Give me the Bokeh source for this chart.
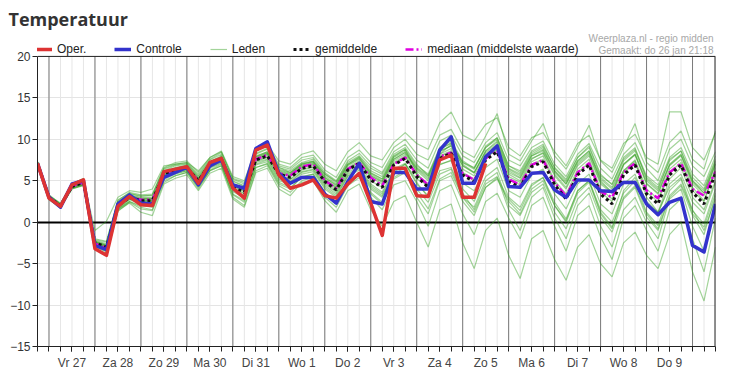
from bokeh.plotting import figure
from bokeh.models import FixedTicker, Span, Label, Legend, LegendItem, Range1d
from bokeh.embed import file_html
from bokeh.resources import INLINE

# ---------------- data ----------------
day_labels = ["Vr 27", "Za 28", "Zo 29", "Ma 30", "Di 31", "Wo 1", "Do 2",
              "Vr 3", "Za 4", "Zo 5", "Ma 6", "Di 7", "Wo 8", "Do 9"]
y_ticks = [-15, -10, -5, 0, 5, 10, 15, 20]

# 6-hourly values, first point = 26 jan 18:00
oper = [7.1, 2.9, 1.9, 4.5, 5.1,
        -3.2, -4.0, 1.9, 3.1, 2.1, 2.0, 6.1, 6.4, 6.7, 4.7, 7.2, 7.7,
        4.1, 2.9, 8.7, 9.3, 5.7, 4.1, 4.5, 5.1, 3.2, 2.9, 4.6, 5.9,
        2.3, -1.6, 6.5, 6.5, 3.2, 3.1, 7.5, 8.1, 3.0, 3.0, 7.1]

controle = [7.1, 3.0, 1.8, 4.6, 5.0,
            -2.8, -3.3, 2.2, 3.3, 2.3, 2.2, 5.4, 6.0, 6.6, 4.5, 6.8, 7.5,
            4.5, 4.1, 8.9, 9.7, 5.9, 4.7, 5.4, 5.4, 3.4, 2.3, 4.9, 7.1,
            2.5, 2.2, 6.0, 6.0, 4.0, 4.0, 8.7, 10.3, 4.7, 4.7, 7.9, 9.2,
            4.3, 4.2, 5.9, 6.0, 3.9, 3.0, 5.1, 5.1, 3.8, 3.7, 4.8, 4.8,
            2.2, 0.9, 2.4, 2.9, -2.8, -3.6, 2.2]

gemiddelde = [7.1, 3.0, 2.0, 4.3, 4.8,
              -2.5, -3.0, 2.0, 3.0, 2.6, 2.6, 5.8, 6.3, 6.6, 5.0, 7.0, 7.6,
              4.3, 3.6, 7.5, 8.0, 5.8, 5.4, 6.5, 6.8, 4.9, 3.9, 6.3, 7.1,
              5.1, 4.2, 6.9, 7.7, 5.5, 4.2, 7.7, 8.3, 5.7, 4.9, 7.5, 8.5,
              4.9, 4.2, 6.7, 7.3, 4.5, 2.8, 5.7, 6.9, 3.4, 2.2, 5.7, 6.9,
              3.4, 2.2, 5.7, 6.9, 3.6, 2.2, 5.9]

mediaan = [7.1, 3.0, 2.0, 4.3, 4.8,
           -2.6, -3.1, 2.0, 3.0, 2.7, 2.7, 5.9, 6.3, 6.6, 5.0, 7.0, 7.6,
           4.4, 3.8, 7.6, 8.1, 5.9, 5.6, 6.7, 7.0, 5.0, 4.1, 6.4, 7.2,
           5.4, 4.4, 7.0, 7.8, 5.7, 4.5, 7.9, 8.4, 5.9, 5.1, 7.7, 8.6,
           5.2, 4.5, 6.9, 7.5, 4.8, 3.1, 6.0, 7.1, 3.7, 3.0, 6.0, 7.1,
           3.8, 2.9, 6.0, 7.1, 4.0, 3.2, 6.1]

leden = [
    [7.3, 3.2, 2.3, 4.6, 5.3, -2.0, -2.3, 2.6, 3.6, 3.3, 3.4, 6.6, 7.2, 7.4, 6.0, 7.8, 8.6,
     5.5, 5.0, 8.8, 9.4, 7.4, 7.0, 8.2, 8.6, 7.0, 6.2, 8.5, 9.6,
     8.0, 7.5, 9.6, 10.8, 9.5, 8.8, 12.0, 13.3, 10.5, 9.8, 11.8, 12.6,
     9.0, 8.0, 10.2, 10.8, 8.5, 6.8, 9.5, 10.5, 7.5, 6.5, 9.5, 10.6, 7.8, 7.0, 13.3, 13.3, 9.0, 7.5, 10.8],
    [7.0, 2.8, 1.8, 4.0, 4.4, -3.2, -3.8, 1.4, 2.3, 1.2, 0.8, 4.6, 5.3, 5.7, 3.8, 5.9, 6.5,
     2.8, 1.8, 6.0, 6.5, 4.0, 3.2, 4.8, 5.0, 2.6, 1.2, 3.8, 4.6,
     1.5, -0.5, 2.5, 3.2, 0.0, -3.0, 1.5, 2.2, -2.5, -5.6, -1.0, 0.5,
     -4.0, -6.8, -2.0, -1.0, -4.5, -7.0, -3.0, -1.5, -5.0, -6.6, -2.5, -1.2, -4.0, -5.6, -1.5, 0.0, -6.0, -9.5, -3.0],
    [6.9, 2.7, 1.7, 4.0, 4.5, -3.0, -3.6, 1.5, 2.5, 2.0, 1.8, 5.0, 5.6, 6.0, 4.2, 6.2, 6.8,
     3.3, 2.4, 6.6, 7.0, 4.6, 4.0, 5.5, 5.8, 3.6, 2.3, 5.0, 5.6,
     3.0, 1.5, 4.5, 5.0, 2.5, -0.5, 3.8, 4.5, 1.0, -1.5, 2.5, 3.5,
     0.5, -2.0, 2.0, 3.0, -0.5, -3.5, 0.8, 2.0, -1.8, -4.5, 0.5, 2.0, -1.0, -3.5, 1.5, 2.8, -2.0, -6.0, 0.5],
    [7.2, 3.2, 2.2, 4.5, 5.0, -2.2, -2.6, 2.5, 3.4, 3.2, 3.2, 6.4, 6.9, 7.1, 5.6, 7.5, 8.2,
     5.0, 4.4, 8.3, 8.9, 6.8, 6.4, 7.5, 7.8, 6.0, 5.0, 7.4, 8.3,
     6.8, 6.0, 8.5, 9.4, 7.5, 6.5, 9.8, 10.5, 8.0, 7.2, 9.6, 10.8,
     7.5, 6.8, 9.0, 9.8, 7.0, 5.5, 8.2, 9.5, 6.5, 5.2, 8.2, 9.6, 6.5, 5.0, 8.8, 10.0, 6.8, 5.5, 8.5],
    [7.1, 3.1, 2.1, 4.4, 4.9, -2.4, -2.8, 2.2, 3.2, 2.8, 2.9, 6.0, 6.5, 6.8, 5.3, 7.2, 7.9,
     4.6, 4.0, 7.8, 8.3, 6.2, 5.8, 6.9, 7.2, 5.4, 4.4, 6.8, 7.6,
     5.8, 5.0, 7.6, 8.4, 6.4, 5.2, 8.5, 9.2, 6.8, 6.0, 8.4, 9.4,
     6.0, 5.3, 7.7, 8.3, 5.6, 4.0, 6.8, 8.0, 4.6, 3.5, 6.9, 8.1, 4.7, 3.5, 6.9, 8.1, 4.8, 3.5, 7.0],
    [7.0, 2.9, 1.9, 4.2, 4.7, -2.7, -3.2, 1.8, 2.8, 2.4, 2.3, 5.5, 6.1, 6.4, 4.7, 6.7, 7.3,
     4.0, 3.2, 7.2, 7.6, 5.4, 4.9, 6.1, 6.4, 4.4, 3.4, 5.8, 6.6,
     4.4, 3.4, 6.2, 7.0, 4.6, 3.2, 6.9, 7.5, 4.7, 3.8, 6.6, 7.6,
     3.8, 3.0, 5.7, 6.4, 3.4, 1.6, 4.6, 5.8, 2.2, 1.0, 4.6, 5.8, 2.2, 1.0, 4.6, 5.8, 2.4, 1.0, 4.8],
    [7.2, 3.1, 2.0, 4.4, 5.0, -2.3, -2.7, 2.4, 3.3, 3.0, 3.0, 6.2, 6.8, 7.0, 5.5, 7.3, 8.0,
     4.9, 4.3, 8.2, 8.8, 6.6, 6.2, 7.2, 7.6, 5.8, 4.8, 7.0, 7.9,
     6.2, 5.5, 8.0, 8.8, 6.0, 4.0, 7.0, 7.4, 4.0, 2.5, 5.5, 6.6,
     3.0, 1.8, 4.6, 5.4, 2.0, 0.0, 3.5, 4.8, 1.0, -0.8, 3.8, 5.4, 2.5, 1.2, 5.2, 6.6, 3.0, 1.5, 5.0],
    [7.0, 2.9, 1.9, 4.2, 4.6, -2.8, -3.4, 1.6, 2.7, 2.2, 2.1, 5.4, 5.9, 6.2, 4.5, 6.5, 7.1,
     3.7, 2.9, 6.9, 7.3, 5.0, 4.6, 5.8, 6.1, 4.0, 3.0, 5.5, 6.3,
     4.0, 3.0, 6.0, 7.0, 5.2, 4.5, 8.2, 9.4, 7.2, 6.6, 9.0, 10.2,
     6.8, 6.2, 8.6, 9.4, 6.5, 5.0, 7.8, 9.2, 5.8, 4.5, 7.8, 9.0, 5.2, 4.0, 7.6, 8.6, 5.0, 3.8, 7.4],
    [7.3, 3.3, 2.2, 4.6, 5.2, -2.1, -2.4, 2.7, 3.5, 3.1, 3.3, 6.5, 7.0, 7.2, 5.8, 7.6, 8.4,
     5.3, 4.8, 8.6, 9.2, 7.0, 6.6, 7.8, 8.1, 6.3, 5.4, 7.8, 8.7,
     7.2, 6.6, 9.0, 10.0, 8.2, 7.5, 10.5, 11.2, 8.6, 7.8, 10.4, 13.1,
     8.2, 7.4, 9.8, 11.9, 8.0, 6.4, 9.0, 11.7, 7.4, 6.0, 9.0, 11.9, 7.2, 6.0, 9.6, 11.0, 7.6, 6.4, 11.0],
    [7.1, 3.0, 1.9, 4.3, 4.7, -2.6, -3.1, 1.9, 2.9, 2.5, 2.4, 5.7, 6.2, 6.5, 4.9, 6.9, 7.5,
     4.1, 3.4, 7.3, 7.8, 5.6, 5.1, 6.3, 6.6, 4.6, 3.6, 6.0, 6.8,
     4.6, 3.6, 6.4, 7.1, 4.8, 3.0, 6.2, 6.6, 3.5, 1.5, 4.6, 5.5,
     1.5, -1.0, 3.0, 4.2, 0.5, -2.0, 2.0, 3.5, -0.5, -3.0, 1.5, 3.0, 0.0, -2.0, 2.8, 4.0, -0.5, -3.5, 2.0],
    [7.2, 3.1, 2.1, 4.5, 5.1, -1.0, 0.1, 3.0, 3.8, 3.6, 4.0, 6.8, 7.0, 7.2, 6.2, 7.8, 8.5,
     5.2, 4.6, 8.0, 8.5, 6.6, 6.0, 7.0, 7.3, 5.8, 4.9, 7.2, 8.0,
     6.5, 5.8, 8.2, 9.0, 7.0, 5.6, 8.8, 9.5, 7.0, 6.0, 8.6, 9.8,
     6.4, 5.6, 8.0, 8.8, 6.0, 4.6, 7.2, 8.4, 5.2, 4.0, 7.0, 8.2, 5.0, 3.8, 7.0, 8.2, 5.0, 3.5, 7.2],
    [6.9, 2.8, 1.8, 4.1, 4.5, -3.3, -4.0, 1.3, 2.4, 1.6, 1.4, 4.8, 5.6, 6.0, 4.0, 6.2, 6.8,
     3.4, 2.6, 6.6, 7.1, 4.8, 4.2, 5.4, 5.8, 3.4, 2.4, 4.8, 5.8,
     3.4, 2.2, 5.2, 6.0, 3.0, 1.0, 5.0, 5.6, 2.5, 0.8, 4.2, 5.2,
     2.5, 1.0, 4.0, 5.0, 2.0, 0.2, 3.8, 5.0, 1.5, 0.0, 3.5, 5.0, 1.2, -0.4, 3.8, 5.2, 1.0, -0.6, 3.5],
    [7.1, 3.0, 2.0, 4.3, 4.8, -2.5, -3.0, 2.0, 3.0, 2.7, 2.6, 5.9, 6.4, 6.6, 5.0, 7.0, 7.6,
     4.4, 3.8, 7.6, 8.2, 6.0, 5.6, 6.7, 7.0, 5.1, 4.2, 6.5, 7.2,
     5.4, 4.6, 7.2, 8.0, 5.8, 4.6, 8.0, 8.6, 6.0, 5.2, 7.8, 8.8,
     5.2, 4.5, 7.0, 7.6, 4.8, 3.0, 6.0, 7.2, 3.6, 2.5, 6.0, 7.2, 3.6, 2.5, 6.0, 7.2, 3.8, 2.5, 6.2],
    [7.2, 3.1, 2.1, 4.4, 4.9, -2.4, -2.9, 2.1, 3.1, 2.7, 2.7, 6.0, 6.5, 6.8, 5.2, 7.2, 7.8,
     4.6, 4.0, 7.9, 8.4, 6.3, 5.9, 7.0, 7.3, 5.4, 4.5, 6.9, 7.7,
     5.9, 5.2, 7.8, 8.6, 6.6, 5.6, 8.8, 9.6, 7.2, 6.4, 9.0, 10.0,
     6.5, 5.8, 8.2, 9.0, 6.2, 4.6, 7.4, 8.6, 5.0, 3.6, 6.2, 7.4, 3.0, 1.2, 4.2, 5.4, 1.5, -1.0, 2.8],
    [7.0, 2.9, 1.9, 4.2, 4.7, -2.7, -3.3, 1.7, 2.8, 2.3, 2.2, 5.6, 6.0, 6.3, 4.6, 6.6, 7.2,
     3.9, 3.1, 7.0, 7.5, 5.2, 4.8, 6.0, 6.3, 4.2, 3.2, 5.6, 6.5,
     4.2, 3.2, 5.8, 6.6, 4.0, 2.4, 5.8, 6.4, 3.0, 1.8, 5.0, 6.0,
     2.0, 0.8, 3.6, 4.6, 1.2, -0.8, 2.8, 4.2, 0.6, -1.2, 2.8, 4.2, 0.6, -1.0, 3.0, 4.4, 0.8, -1.5, 3.2],
    [7.1, 3.0, 2.0, 4.3, 4.8, -2.6, -3.1, 1.9, 2.9, 2.5, 2.5, 5.7, 6.2, 6.5, 4.8, 6.9, 7.5,
     4.2, 3.5, 7.4, 7.9, 5.7, 5.2, 6.4, 6.7, 4.8, 3.8, 6.2, 7.0,
     5.0, 4.2, 7.0, 7.9, 5.7, 4.5, 7.9, 8.5, 5.9, 5.0, 7.8, 8.7,
     5.5, 4.8, 7.3, 8.0, 5.0, 3.4, 6.4, 7.6, 4.0, 2.8, 6.2, 7.5, 4.0, 2.8, 6.4, 7.6, 4.2, 2.6, 6.6],
    [7.1, 3.0, 2.1, 4.4, 4.9, -2.3, -2.8, 2.3, 3.2, 2.9, 2.8, 6.1, 6.6, 6.9, 5.3, 7.3, 7.9,
     4.7, 4.1, 7.9, 8.5, 6.4, 6.0, 7.1, 7.4, 5.6, 4.6, 7.0, 7.8,
     6.0, 5.2, 7.9, 8.8, 6.8, 5.8, 9.0, 9.8, 7.4, 6.5, 9.2, 10.2,
     6.8, 6.0, 8.4, 9.2, 6.6, 5.2, 7.8, 9.0, 5.6, 4.6, 7.6, 8.8, 5.6, 4.5, 7.8, 9.0, 5.8, 4.4, 8.0],
    [7.0, 2.9, 2.0, 4.3, 4.8, -2.5, -3.0, 2.0, 3.0, 2.6, 2.6, 5.8, 6.3, 6.6, 5.0, 7.0, 7.6,
     4.3, 3.7, 7.6, 8.1, 5.9, 5.5, 6.6, 6.9, 5.0, 4.0, 6.4, 7.2,
     5.6, 4.8, 7.4, 8.2, 6.2, 5.0, 8.2, 8.9, 6.4, 5.6, 8.2, 9.2,
     5.8, 5.0, 7.6, 8.4, 5.8, 4.2, 7.0, 8.2, 4.8, 3.6, 7.0, 8.2, 4.6, 3.4, 6.8, 8.0, 4.6, 3.2, 7.0],
    [7.0, 2.8, 1.8, 4.1, 4.5, -3.0, -3.5, 1.6, 2.5, 1.8, 1.5, 5.2, 5.8, 6.2, 4.3, 6.3, 7.0,
     3.0, 2.0, 6.2, 6.8, 4.4, 3.6, 5.0, 5.4, 3.0, 1.8, 4.4, 5.4,
     3.6, 2.4, 5.4, 6.2, 3.6, 1.6, 5.2, 6.0, 3.0, 1.2, 4.2, 5.4,
     2.8, 1.4, 4.4, 5.4, 2.4, 0.4, 3.8, 5.0, 1.2, -0.6, 3.0, 4.4, 1.0, -0.8, 3.2, 4.6, 1.4, -0.2, 4.0],
    [7.2, 3.1, 2.1, 4.4, 4.8, -2.4, -2.9, 2.2, 3.1, 2.8, 2.8, 6.0, 6.4, 6.7, 5.1, 7.1, 7.7,
     4.5, 3.9, 7.7, 8.3, 6.1, 5.7, 6.8, 7.1, 5.2, 4.2, 6.6, 7.4,
     5.6, 4.9, 7.6, 8.4, 6.5, 5.4, 8.6, 9.2, 6.8, 5.9, 8.6, 9.6,
     6.2, 5.4, 8.0, 8.6, 6.2, 4.8, 7.4, 8.6, 5.4, 4.2, 7.4, 8.6, 5.4, 4.2, 7.4, 8.6, 5.4, 4.0, 7.6],
]

# time axis: hours since 27 jan 00:00, 6-hourly, first point 26 jan 18:00
STEP_H = 6
START_H = -6
N_STEPS = 60
hours = [START_H + STEP_H * i for i in range(N_STEPS)]
x_end = hours[-1]
Y_MIN, Y_MAX = -15, 20

# layout (pixels)
W, H = 716, 372
FRAME_LEFT, FRAME_RIGHT = 37, 715
FRAME_TOP, BOX_TOP, BOX_BOTTOM = 30, 56, 347
PX_PER_DEG = (BOX_BOTTOM - BOX_TOP) / (Y_MAX - Y_MIN)

quarter_ticks = hours[:]
noon_ticks = [12 + 24 * k for k in range(len(day_labels))]
midnight_ticks = [24 * k for k in range(15)]

p = figure(width=W, height=H, output_backend="svg", toolbar_location=None,
           x_range=Range1d(START_H, x_end),
           y_range=Range1d(Y_MIN, Y_MAX + (BOX_TOP - FRAME_TOP) / PX_PER_DEG),
           min_border_left=FRAME_LEFT, min_border_right=W - FRAME_RIGHT,
           min_border_top=FRAME_TOP, min_border_bottom=H - BOX_BOTTOM)
p.background_fill_color = "white"
p.border_fill_color = "white"
p.outline_line_color = None

# title in the panel above the frame
p.title.text = "Temperatuur"
p.title.align = "left"
p.title.offset = -29
p.title.standoff = 0
p.title.vertical_align = "bottom"
p.title.text_font = "Open Sans"
p.title.text_font_size = "18px"
p.title.text_font_style = "bold"
p.title.text_color = "#333333"

p.xgrid.visible = False
p.ygrid.grid_line_color = "#e4e4e4"
p.ygrid.ticker = FixedTicker(ticks=y_ticks)

# vertical grid (6-hourly light, daily dark), only inside the plotting box
p.segment(x0=quarter_ticks, y0=[Y_MIN] * len(quarter_ticks), x1=quarter_ticks, y1=[Y_MAX] * len(quarter_ticks),
          line_color="#e6e6e6", line_width=1)
p.segment(x0=midnight_ticks, y0=[Y_MIN] * len(midnight_ticks), x1=midnight_ticks, y1=[Y_MAX] * len(midnight_ticks),
          line_color="#7a7a7a", line_width=1)
# zero baseline
p.hspan(y=[0], line_color="black", line_width=2)

# axes
p.xaxis.ticker = FixedTicker(ticks=noon_ticks, minor_ticks=quarter_ticks)
p.xaxis.major_label_overrides = {t: lab for t, lab in zip(noon_ticks, day_labels)}
p.xaxis.major_tick_in = 0
p.xaxis.major_tick_out = 5
p.xaxis.minor_tick_in = 0
p.xaxis.minor_tick_out = 5
p.xaxis.major_tick_line_color = "#222222"
p.xaxis.minor_tick_line_color = "#222222"
p.xaxis.axis_line_color = "#222222"
p.xaxis.major_label_standoff = 4
p.xaxis.major_label_text_font = "Liberation Sans"
p.xaxis.major_label_text_font_size = "12px"
p.xaxis.major_label_text_color = "#444444"

p.yaxis.ticker = FixedTicker(ticks=y_ticks)
p.yaxis.bounds = (Y_MIN, Y_MAX)
p.yaxis.major_tick_in = 0
p.yaxis.major_tick_out = 5
p.yaxis.minor_tick_line_color = None
p.yaxis.major_tick_line_color = "#222222"
p.yaxis.axis_line_color = "#222222"
p.yaxis.major_label_standoff = 2
p.yaxis.major_label_text_font = "Liberation Sans"
p.yaxis.major_label_text_font_size = "12px"
p.yaxis.major_label_text_color = "#333333"

# ---------------- series ----------------
member_renderers = []
for vals in leden:
    r = p.line(hours[:len(vals)], vals, line_color="#33a020", line_alpha=0.45, line_width=1.2)
    member_renderers.append(r)

r_med = p.line(hours[:len(mediaan)], mediaan, line_color="#e000e0", line_width=2.5, line_dash="8 3 2 3")
r_mean = p.line(hours[:len(gemiddelde)], gemiddelde, line_color="#111111", line_width=3, line_dash="3 3")
r_ctrl = p.line(hours[:len(controle)], controle, line_color="#3333cc", line_width=3.5, line_join="round")
r_oper = p.line(hours[:len(oper)], oper, line_color="#dd3333", line_width=3.5, line_join="round")

# box border (top and right) of the plotting area
p.add_layout(Span(location=Y_MAX, dimension="width", line_color="#222222", line_width=1))
p.line([x_end, x_end], [Y_MIN, Y_MAX], line_color="#222222", line_width=2)

legend = Legend(items=[
    LegendItem(label="Oper.", renderers=[r_oper]),
    LegendItem(label="Controle", renderers=[r_ctrl]),
    LegendItem(label="Leden", renderers=[member_renderers[0]]),
    LegendItem(label="gemiddelde", renderers=[r_mean]),
    LegendItem(label="mediaan (middelste waarde)", renderers=[r_med]),
], orientation="horizontal", location=(-2, 290),
    label_text_font="Liberation Sans", label_text_font_size="12px", label_text_color="#222222",
    glyph_width=17, glyph_height=12, label_height=12, label_standoff=5, spacing=28,
    padding=0, margin=0, border_line_color=None, background_fill_alpha=0)
p.add_layout(legend)

# source texts (inside the frame's head room)
p.add_layout(Label(x=713 - FRAME_LEFT, y=BOX_BOTTOM - 39.3, x_units="screen", y_units="screen",
                   text="Weerplaza.nl - regio midden",
                   text_font="Liberation Sans", text_font_size="10px", text_color="#a8a8a8",
                   text_align="right", text_baseline="alphabetic"))
p.add_layout(Label(x=713 - FRAME_LEFT, y=BOX_BOTTOM - 51.3, x_units="screen", y_units="screen",
                   text="Gemaakt: do 26 jan 21:18",
                   text_font="Liberation Sans", text_font_size="10px", text_color="#a8a8a8",
                   text_align="right", text_baseline="alphabetic"))

open("out.html", "w").write(file_html(p, INLINE))
